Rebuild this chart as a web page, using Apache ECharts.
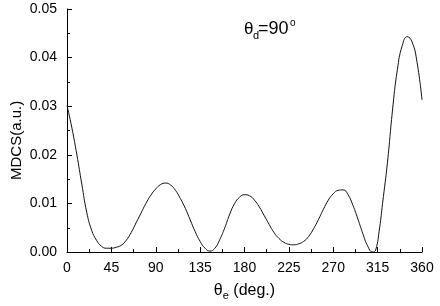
<!DOCTYPE html>
<html>
<head>
<meta charset="utf-8">
<script src="https://cdn.jsdelivr.net/npm/echarts@6/dist/echarts.min.js"></script>
<style>html,body{margin:0;padding:0;background:#fff;}#c{width:440px;height:306px;}</style>
</head>
<body>
<div id="c"></div>
<script>
const thetaE = [0,5,10,15,20,25,30,35,40,45,50,55,60,65,70,75,80,85,90,95,100,105,110,115,120,125,130,135,140,145,150,155,160,165,170,175,180,185,190,195,200,205,210,215,220,225,230,235,240,245,250,255,260,265,270,275,280,285,290,295,300,305,310,313,317,320,325,330,335,340,345,350,355,360];
const mdcs = [0.0302,0.0255,0.0200,0.0140,0.0082,0.0045,0.0024,0.0012,0.0008,0.0008,0.0010,0.0014,0.0024,0.0040,0.0060,0.0080,0.0100,0.0117,0.0130,0.0139,0.0142,0.0138,0.0127,0.0110,0.0090,0.0066,0.0042,0.0022,0.0008,0.0002,0.0008,0.0026,0.0050,0.0078,0.0100,0.0113,0.0118,0.0116,0.0107,0.0093,0.0075,0.0057,0.0040,0.0028,0.0020,0.0016,0.0015,0.0017,0.0022,0.0032,0.0048,0.0067,0.0088,0.0107,0.0120,0.0127,0.0128,0.0118,0.0096,0.0068,0.0038,0.0012,0.0000,0.0004,0.0050,0.0100,0.0185,0.0290,0.0375,0.0425,0.0443,0.0432,0.0390,0.0313];
const xTicks = [0,45,90,135,180,225,270,315,360];
const yTicks = [0.00,0.01,0.02,0.03,0.04,0.05];

const font = 'Liberation Sans';
const chart = echarts.init(document.getElementById('c'), null, {renderer:'canvas'});
chart.setOption({
  animation:false,
  backgroundColor:'#fff',
  grid:{left:67,right:18,top:9,bottom:52,containLabel:false},
  xAxis:{
    type:'value', min:xTicks[0], max:xTicks[xTicks.length-1], interval:45,
    axisLine:{lineStyle:{color:'#000',width:1}},
    axisTick:{inside:true,length:5,lineStyle:{color:'#000'}},
    minorTick:{show:true,splitNumber:2,length:3,lineStyle:{color:'#000'}},
    splitLine:{show:false},
    axisLabel:{color:'#000',fontFamily:font,fontSize:14,margin:9},
    name:'{a|θ}{b|e}{a| (deg.)}',
    nameLocation:'middle', nameGap:30,
    nameTextStyle:{rich:{
      a:{fontFamily:font,fontSize:16,color:'#000',lineHeight:18,verticalAlign:'top'},
      b:{fontFamily:font,fontSize:11,color:'#000',lineHeight:18,verticalAlign:'bottom',padding:[10,0,0,0]}
    }}
  },
  yAxis:{
    type:'value', min:yTicks[0], max:yTicks[yTicks.length-1], interval:0.01,
    axisLine:{show:true,lineStyle:{color:'#000',width:1}},
    axisTick:{show:true,inside:true,length:5,lineStyle:{color:'#000'}},
    minorTick:{show:true,splitNumber:2,length:3,lineStyle:{color:'#000'}},
    splitLine:{show:false},
    axisLabel:{color:'#000',fontFamily:font,fontSize:14,margin:10,formatter:v=>v.toFixed(2)}
  },
  graphic:[
    {type:'text',x:9,y:180,rotation:Math.PI/2,style:{text:'MDCS(a.u.)',fill:'#000',font:'15px "Liberation Sans"'}},
    {type:'text',x:244,y:21,style:{text:'θ',fill:'#000',font:'17px "Liberation Sans"'}},
    {type:'text',x:253,y:30,style:{text:'d',fill:'#000',font:'11px "Liberation Sans"'}},
    {type:'text',x:258,y:20,style:{text:'=90',fill:'#000',font:'18px "Liberation Sans"'}},
    {type:'text',x:290,y:18,style:{text:'o',fill:'#000',font:'10px "Liberation Sans"'}}
  ],
  series:[{
    type:'line', data:thetaE.map((x,i)=>[x,mdcs[i]]),
    smooth:0.5, showSymbol:false, symbol:'none',
    lineStyle:{color:'#111',width:1}
  }]
});
</script>
</body>
</html>
